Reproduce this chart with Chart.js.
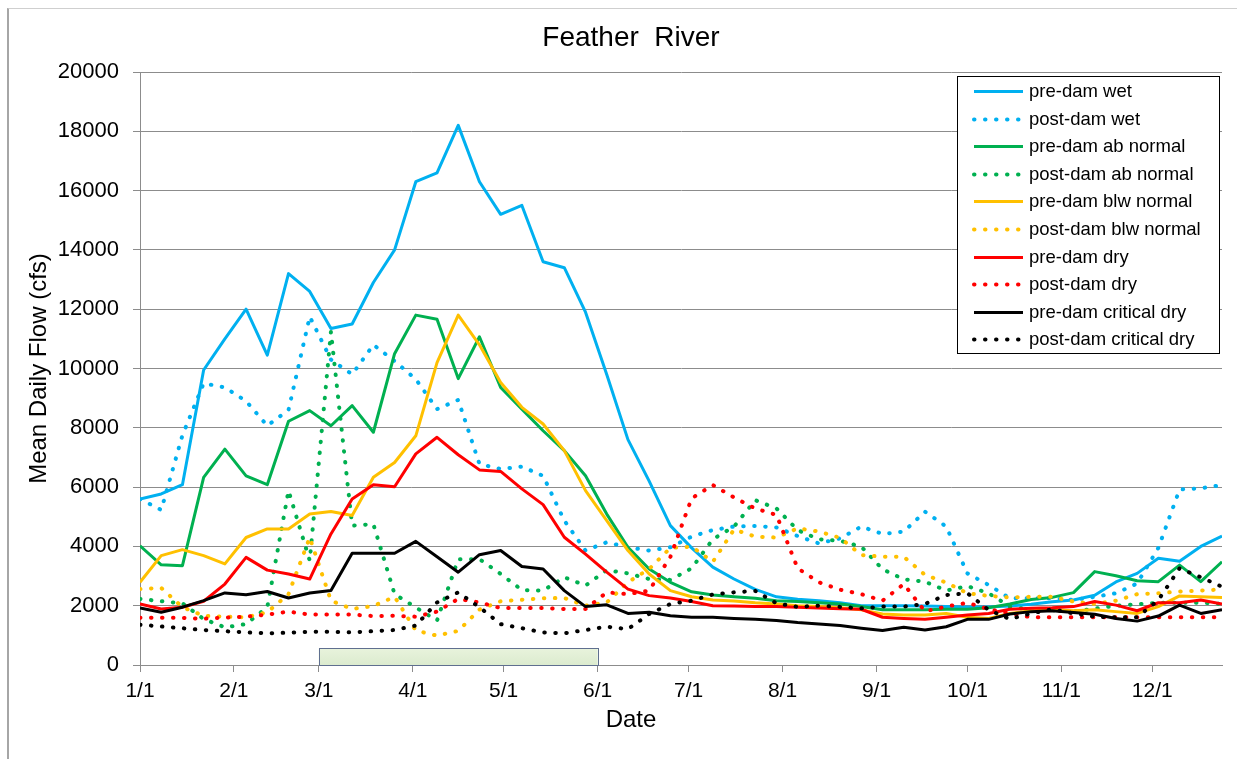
<!DOCTYPE html>
<html>
<head>
<meta charset="utf-8">
<title>Feather River</title>
<script src="https://cdn.jsdelivr.net/npm/chart.js@4.4.1/dist/chart.umd.min.js"></script>
<style>
  html, body { margin: 0; padding: 0; background: #fff; }
  #wrap { position: relative; width: 1237px; height: 759px; overflow: hidden; }
  #frame { position: absolute; left: 7px; top: 8px; right: -2px; bottom: -2px; border-left: 2px solid #a6a6a6; border-top: 1px solid #cfcfcf; pointer-events: none; }
</style>
</head>
<body>
<div id="wrap">
  <canvas id="flowChart" width="1237" height="759"></canvas>
  <div id="frame"></div>
</div>
<script>
// weekly points, day of year
const weekDays = [0, 7, 14, 21, 28, 35, 42, 49, 56, 63, 70, 77, 84, 91, 98, 105, 112, 119, 126, 133,
  140, 147, 154, 161, 168, 175, 182, 189, 196, 203, 210, 217, 224, 231, 238, 245, 252, 259, 266, 273,
  280, 287, 294, 301, 308, 315, 322, 329, 336, 343, 350, 357];

// month ticks on the x axis
const monthDays = [0, 31, 59, 90, 120, 151, 181, 212, 243, 273, 304, 334];
const monthLabels = ['1/1', '2/1', '3/1', '4/1', '5/1', '6/1', '7/1', '8/1', '9/1', '10/1', '11/1', '12/1'];

// shaded period (3/1 - 6/1)
const shadeFrom = 59;
const shadeTo = 151;
const shadeTop = 560;

const preWet = [5600, 5770, 6080, 9950, 11000, 12000, 10450, 13200, 12600, 11350, 11500, 12900, 14000,
  16300, 16600, 18200, 16300, 15200, 15500, 13600, 13400, 11900, 9800, 7600, 6200, 4700, 3950, 3300,
  2900, 2550, 2300, 2220, 2170, 2100, 2000, 2000, 2000, 1990, 1970, 1960, 1960, 1990, 2050, 2130, 2190,
  2350, 2800, 3090, 3600, 3500, 4000, 4350];
const postWet = [5600, 5230, 7750, 9500, 9360, 8900, 8070, 8600, 11750, 10300, 9800, 10800, 10250, 9640,
  8630, 8940, 6780, 6610, 6690, 6380, 4870, 3860, 4140, 3970, 3860, 3970, 4330, 4550, 4670, 4690, 4640,
  4350, 4100, 4270, 4670, 4420, 4500, 5170, 4670, 3090, 2700, 2250, 2250, 2250, 2190, 2300, 2420, 2750,
  3950, 5920, 5960, 6070];
const preAbNormal = [4020, 3380, 3350, 6330, 7280, 6380, 6080, 8220, 8580, 8070, 8750, 7850, 10500, 11800,
  11660, 9660, 11070, 9360, 8630, 7900, 7230, 6380, 5090, 3970, 3240, 2790, 2470, 2360, 2300, 2250, 2170,
  2140, 2100, 2060, 1970, 1860, 1860, 1860, 1880, 1880, 1930, 2060, 2210, 2280, 2440, 3150, 3010, 2840,
  2810, 3370, 2810, 3480];
const postAbNormal = [2230, 2150, 2080, 1550, 1270, 1380, 1950, 5880, 3520, 11240, 4700, 4750, 2390, 1940,
  1500, 3570, 3570, 3070, 2530, 2510, 2960, 2680, 3200, 3090, 2900, 2870, 3260, 4240, 4670, 5560, 5280,
  4550, 4240, 4190, 3990, 3230, 2890, 2810, 2510, 2660, 2420, 1970, 1860, 1850, 1800, 1900, 2000, 2050,
  2100, 2100, 2100, 2060];
const preBlwNormal = [2790, 3690, 3890, 3690, 3410, 4300, 4590, 4590, 5090, 5180, 5040, 6330, 6830, 7730,
  10200, 11800, 10800, 9530, 8690, 8130, 7230, 5880, 4870, 3860, 3070, 2510, 2300, 2190, 2160, 2100, 2060,
  2000, 1970, 1930, 1860, 1720, 1690, 1690, 1740, 1610, 1570, 1740, 1830, 1860, 1830, 1860, 1800, 1740,
  1970, 2330, 2300, 2280];
const postBlwNormal = [2560, 2600, 1950, 1660, 1630, 1610, 1780, 2390, 4300, 2170, 1890, 1990, 2300, 1160,
  990, 1150, 1870, 2150, 2200, 2250, 2260, 2000, 2110, 2790, 3240, 3950, 3990, 3480, 4570, 4330, 4300,
  4610, 4500, 4290, 3710, 3650, 3650, 3040, 2780, 2420, 2330, 2280, 2300, 2300, 2140, 2060, 2170, 2390,
  2420, 2480, 2510, 2550];
const preDry = [2060, 1890, 1950, 2150, 2730, 3630, 3200, 3070, 2900, 4420, 5600, 6080, 6010, 7120, 7680,
  7090, 6580, 6530, 5940, 5410, 4310, 3740, 3130, 2560, 2340, 2260, 2140, 2000, 1990, 1970, 1970, 1950,
  1920, 1900, 1880, 1610, 1570, 1540, 1610, 1690, 1740, 1880, 1910, 1930, 1970, 2140, 2020, 1830, 2100,
  2100, 2190, 2060];
const postDry = [1590, 1590, 1590, 1560, 1600, 1630, 1700, 1800, 1700, 1700, 1700, 1650, 1660, 1630, 1800,
  2230, 2110, 1920, 1920, 1920, 1890, 1890, 2450, 2390, 2510, 3650, 5620, 6070, 5650, 5280, 5060, 3260,
  2790, 2540, 2390, 2170, 2730, 1810, 1970, 2100, 1880, 1740, 1610, 1610, 1610, 1610, 1610, 1610, 1610,
  1610, 1610, 1610];
const preCritDry = [1920, 1780, 1950, 2170, 2430, 2370, 2480, 2260, 2430, 2510, 3770, 3770, 3770, 4170,
  3650, 3130, 3720, 3860, 3320, 3240, 2510, 1970, 2030, 1740, 1780, 1660, 1610, 1610, 1570, 1540, 1500,
  1430, 1380, 1330, 1240, 1160, 1270, 1180, 1290, 1540, 1540, 1720, 1800, 1830, 1770, 1710, 1570, 1480,
  1650, 2020, 1740, 1860];
const postCritDry = [1360, 1300, 1240, 1180, 1140, 1100, 1070, 1090, 1120, 1120, 1100, 1140, 1180, 1330,
  2110, 2450, 1950, 1380, 1240, 1100, 1070, 1180, 1290, 1210, 1720, 2060, 2170, 2380, 2450, 2500, 2080,
  1960, 2000, 1960, 1910, 1970, 1970, 2060, 2360, 2420, 1860, 1550, 1740, 1880, 1740, 1630, 1610, 1610,
  2190, 3260, 2960, 2640];

const seriesNames = ['pre-dam wet', 'post-dam wet', 'pre-dam ab normal', 'post-dam ab normal',
  'pre-dam blw normal', 'post-dam blw normal', 'pre-dam dry', 'post-dam dry',
  'pre-dam critical dry', 'post-dam critical dry'];
const seriesValues = [preWet, postWet, preAbNormal, postAbNormal, preBlwNormal, postBlwNormal,
  preDry, postDry, preCritDry, postCritDry];
const seriesColors = ['#00b0f0', '#00b0f0', '#00b050', '#00b050', '#ffc000', '#ffc000',
  '#ff0000', '#ff0000', '#000000', '#000000'];

const dotDash = [0.5, 10.5];

let datasets = seriesValues.map((vals, i) => {
  let dotted = i % 2 === 1;
  return {
    label: seriesNames[i],
    data: vals.map((v, k) => ({ x: weekDays[k], y: v })),
    borderColor: seriesColors[i],
    backgroundColor: seriesColors[i],
    borderWidth: dotted ? 4 : 3,
    borderDash: dotted ? dotDash : [],
    borderCapStyle: dotted ? 'round' : 'butt',
    borderJoinStyle: 'round',
    pointRadius: 0,
    tension: 0,
    fill: false,
    order: seriesValues.length - i // later series on top, like the original
  };
});

// pale green box under the lines
const shadeBox = {
  id: 'shadeBox',
  beforeDatasetsDraw(chart) {
    let { ctx, scales } = chart;
    let x0 = scales.x.getPixelForValue(shadeFrom);
    let x1 = scales.x.getPixelForValue(shadeTo);
    let y0 = scales.y.getPixelForValue(shadeTop);
    let y1 = scales.y.getPixelForValue(0);
    ctx.save();
    let grad = ctx.createLinearGradient(0, y0, 0, y1);
    grad.addColorStop(0, '#e8f3dc');
    grad.addColorStop(1, '#dcebcf');
    ctx.fillStyle = grad;
    ctx.fillRect(x0, y0, x1 - x0, y1 - y0);
    ctx.strokeStyle = '#5f6f8f';
    ctx.lineWidth = 1;
    ctx.strokeRect(Math.round(x0) + 0.5, Math.round(y0) + 0.5, Math.round(x1 - x0), Math.round(y1 - y0));
    ctx.restore();
  }
};

// boxed legend in the top right corner of the plot
const cornerLegend = {
  id: 'cornerLegend',
  afterDatasetsDraw(chart) {
    let { ctx, chartArea } = chart;
    let boxW = 262, boxH = 277;
    let left = chartArea.right - 265;
    let top = chartArea.top + 4;
    ctx.save();
    ctx.fillStyle = '#fff';
    ctx.fillRect(left, top, boxW, boxH);
    ctx.strokeStyle = '#000';
    ctx.lineWidth = 1;
    ctx.strokeRect(left + 0.5, top + 0.5, boxW, boxH);

    ctx.font = '18.5px "Liberation Sans", Arial, sans-serif';
    ctx.textBaseline = 'middle';
    ctx.textAlign = 'left';
    chart.data.datasets.forEach((ds, i) => {
      let y = Math.round(top + 15 + i * 27.6) + 0.5;
      ctx.beginPath();
      ctx.strokeStyle = ds.borderColor;
      ctx.lineWidth = ds.borderWidth;
      ctx.setLineDash(ds.borderDash);
      ctx.lineCap = ds.borderCapStyle;
      ctx.moveTo(left + 17, y);
      ctx.lineTo(left + 66, y);
      ctx.stroke();
      ctx.setLineDash([]);
      ctx.fillStyle = '#000';
      ctx.fillText(ds.label, left + 72, y);
    });
    ctx.restore();
  }
};

Chart.defaults.font.family = '"Liberation Sans", Arial, sans-serif';
Chart.defaults.color = '#000';

let ctx = document.getElementById('flowChart').getContext('2d');
window.myChart = new Chart(ctx, {
  type: 'line',
  data: { datasets: datasets },
  options: {
    responsive: false,
    animation: false,
    layout: { padding: { left: 40, right: 15, top: 0, bottom: 0 } },
    plugins: {
      legend: { display: false },
      tooltip: { enabled: false },
      title: {
        display: true,
        text: 'Feather  River',
        color: '#000',
        font: { size: 28, weight: 'normal' },
        padding: { top: 21, bottom: 17.4 }
      },
      subtitle: {
        display: true,
        position: 'bottom',
        text: 'Date',
        color: '#000',
        font: { size: 24, weight: 'normal' },
        padding: { top: 0, bottom: 24.6 }
      }
    },
    scales: {
      x: {
        type: 'linear',
        min: 0,
        max: 357,
        grid: { drawOnChartArea: false, drawTicks: true, tickLength: 7, color: '#8c8c8c' },
        border: { color: '#8c8c8c', width: 1 },
        ticks: {
          font: { size: 21 },
          padding: 7,
          autoSkip: false,
          maxRotation: 0,
          callback: v => monthLabels[monthDays.indexOf(v)]
        },
        afterBuildTicks: scale => { scale.ticks = monthDays.map(d => ({ value: d })); },
        afterFit: scale => { scale.height = 40.6; }
      },
      y: {
        min: 0,
        max: 20000,
        grid: { color: '#8c8c8c', tickLength: 7 },
        border: { color: '#8c8c8c', width: 1 },
        ticks: { stepSize: 2000, font: { size: 22 }, padding: 14, callback: v => String(v) },
        title: {
          display: true,
          text: 'Mean Daily Flow (cfs)',
          color: '#000',
          font: { size: 24 },
          padding: { top: -15.4, bottom: 0 }
        },
        afterFit: scale => { scale.width = 100; }
      }
    }
  },
  plugins: [shadeBox, cornerLegend]
});
</script>
</body>
</html>
